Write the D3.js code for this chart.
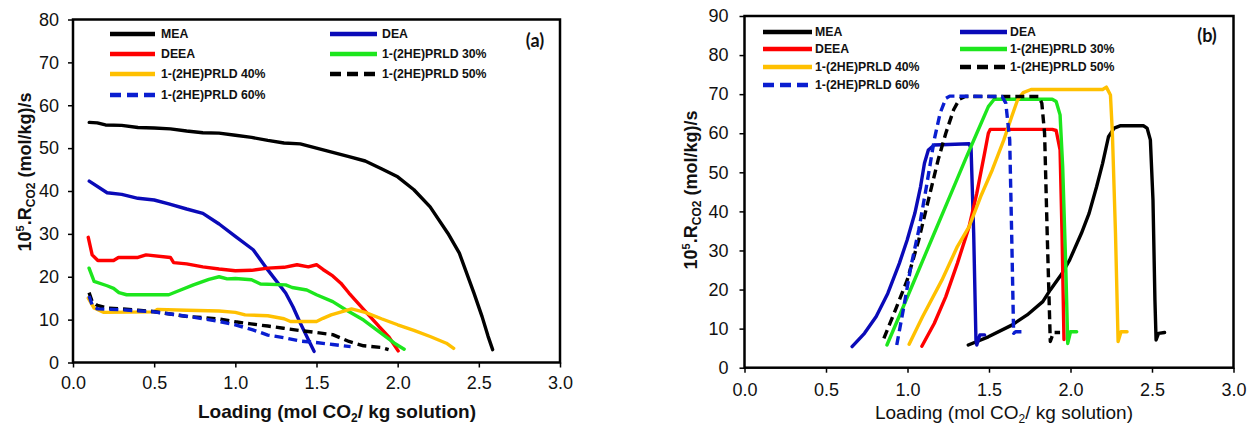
<!DOCTYPE html>
<html><head><meta charset="utf-8">
<script src="https://cdn.jsdelivr.net/npm/d3@7"></script>
<style>
html,body{margin:0;padding:0;background:#fff;}
svg{display:block;}
text{font-family:"Liberation Sans",Arial,sans-serif;}
</style></head>
<body>
<svg id="c" width="1247" height="425"></svg>
<script>
// ---------- DATA ----------
const seriesNames = ["MEA","DEA","DEEA","1-(2HE)PRLD 30%","1-(2HE)PRLD 40%","1-(2HE)PRLD 50%","1-(2HE)PRLD 60%"];
const xTicks = [0,0.5,1.0,1.5,2.0,2.5,3.0];
const yTicksA = [0,10,20,30,40,50,60,70,80];
const yTicksB = [0,10,20,30,40,50,60,70,80,90];

// Panel (a)
const meaA = [[0.1,56],[0.15,55.9],[0.2,55.4],[0.3,55.3],[0.4,54.8],[0.5,54.7],[0.6,54.5],[0.7,54],[0.8,53.6],[0.9,53.5],[1.0,53.0],[1.1,52.5],[1.2,51.8],[1.3,51.2],[1.4,51],[1.5,50],[1.6,49],[1.7,48],[1.8,47],[1.9,45.2],[2.0,43.3],[2.1,40.3],[2.2,36.3],[2.31,30.1],[2.38,25.5],[2.47,16.2],[2.52,10.7],[2.557,6.1],[2.585,3]];
const deaA = [[0.1,42.3],[0.21,39.6],[0.3,39.2],[0.4,38.3],[0.5,37.9],[0.59,37],[0.7,35.8],[0.8,34.8],[0.9,32.3],[1.0,29.4],[1.11,26.3],[1.2,21.6],[1.31,16.2],[1.355,13],[1.4,9.2],[1.45,5.3],[1.485,2.6]];
const deeaA = [[0.094,29.2],[0.118,25.1],[0.153,23.8],[0.25,23.8],[0.28,24.5],[0.4,24.5],[0.45,25.1],[0.6,24.5],[0.62,23.3],[0.7,23],[0.8,22.3],[0.9,21.8],[1.0,21.4],[1.1,21.5],[1.2,22],[1.3,22.2],[1.38,22.8],[1.45,22.3],[1.5,22.8],[1.54,21.7],[1.6,20.2],[1.65,18.5],[1.7,16.2],[1.79,12.4],[1.885,8.4],[1.944,6.05],[2.003,2.7]];
const p30A = [[0.099,22],[0.13,18.9],[0.21,17.9],[0.25,17.3],[0.283,16.3],[0.33,15.8],[0.59,15.8],[0.636,16.5],[0.742,18.1],[0.837,19.4],[0.9,20],[0.95,19.5],[1.0,19.6],[1.1,19.3],[1.155,18.3],[1.31,18.1],[1.35,17.5],[1.44,16.9],[1.5,15.8],[1.6,14.2],[1.68,12.3],[1.79,9.9],[1.885,7.2],[1.98,4.5],[2.04,3.1]];
const p40A = [[0.094,15],[0.13,12.7],[0.19,11.7],[0.5,11.8],[0.52,12.4],[0.7,12.2],[0.9,12],[1.0,11.7],[1.06,11.1],[1.2,10.9],[1.3,10.2],[1.34,9.55],[1.5,9.55],[1.54,10.3],[1.59,11.1],[1.716,12.5],[1.8,11.7],[1.9,10.2],[2.0,8.8],[2.1,7.5],[2.2,6.06],[2.3,4.5],[2.345,3.3]];
const p50A = [[0.099,16.3],[0.118,14.2],[0.15,13.3],[0.21,12.7],[0.3,12.5],[0.4,12.2],[0.495,11.9],[0.6,11.3],[0.707,10.7],[0.8,10.5],[0.907,10.1],[1.0,9.5],[1.096,9.0],[1.2,8.5],[1.296,8.0],[1.39,7.5],[1.497,7.0],[1.6,6.5],[1.7,4.9],[1.79,3.9],[1.9,3.5],[1.944,3]];
const p60A = [[0.099,15.5],[0.118,13.4],[0.15,12.5],[0.3,12.3],[0.5,11.8],[0.6,11.3],[0.7,10.8],[0.8,10.2],[0.896,9.6],[1.0,8.8],[1.108,7.6],[1.2,6.4],[1.31,5.7],[1.4,5.0],[1.497,4.66],[1.6,4.2],[1.71,3.7]];

// Panel (b)
const meaB = [[1.373,5.8],[1.496,7.9],[1.64,10.9],[1.734,13.5],[1.83,16.9],[1.876,19.9],[1.948,24.1],[1.995,27.6],[2.067,34.4],[2.114,39.5],[2.16,46.3],[2.197,52.3],[2.233,59.1],[2.268,61.3],[2.304,61.9],[2.447,61.9],[2.47,61.3],[2.49,58.3],[2.506,42.9],[2.518,17.3],[2.525,7.1],[2.54,8.8],[2.577,9.0]];
const deaB = [[0.66,5.4],[0.736,8.8],[0.808,13.1],[0.879,19],[0.95,26.7],[0.998,32.7],[1.045,39.5],[1.08,46.3],[1.104,52.3],[1.128,55.7],[1.164,57.0],[1.378,57.3],[1.39,56.1],[1.406,34.4],[1.42,7.1],[1.425,5.8],[1.444,8.4],[1.473,8.4]];
const deeaB = [[1.088,5.5],[1.164,11.3],[1.235,18.2],[1.306,26.7],[1.378,36.1],[1.425,44.6],[1.473,54.9],[1.496,60],[1.508,61],[1.888,61],[1.912,60.7],[1.936,55.7],[1.948,34.4],[1.96,7.2]];
const p30B = [[0.874,5.8],[0.974,15.6],[1.069,25],[1.164,34.4],[1.259,43.8],[1.354,53.2],[1.425,60],[1.496,66.8],[1.532,68.7],[1.888,68.7],[1.912,68.1],[1.936,64.7],[1.952,51.5],[1.971,25.9],[1.983,6.2],[2.0,9.2],[2.038,9.2]];
const p40B = [[1.01,6.0],[1.093,13.1],[1.211,22.4],[1.306,31],[1.378,36.1],[1.449,43.8],[1.52,50.6],[1.591,58.3],[1.639,64.2],[1.675,68.5],[1.71,70.4],[1.758,71.2],[2.197,71.2],[2.22,71.8],[2.245,69.8],[2.257,60],[2.276,34.4],[2.292,6.7],[2.31,9.2],[2.347,9.2]];
const p50B = [[0.855,7.5],[0.926,14.8],[0.998,22.4],[1.069,32.7],[1.128,42.9],[1.188,53.2],[1.235,60],[1.283,66],[1.318,68.7],[1.354,69.4],[1.805,69.4],[1.824,67.7],[1.841,60],[1.857,34.4],[1.876,6.7],[1.895,9.0],[1.936,9.0]];
const p60B = [[0.934,5.8],[0.974,14.8],[1.021,25.9],[1.069,35.2],[1.116,46.3],[1.164,58.3],[1.2,65.1],[1.235,68.9],[1.259,69.5],[1.58,69.4],[1.603,67.7],[1.627,58.3],[1.639,34.4],[1.651,8.8],[1.663,9.2],[1.71,9.2]];

const colors = ["#000000","#0a0ab8","#ff0000","#1de61d","#ffc000","#000000","#0a1ed0"];
const dashed = [false,false,false,false,false,true,true];

// ---------- DRAW ----------
const svg = d3.select("#c");

function panel(cfg){
  const x = d3.scaleLinear().domain([0,3]).range([cfg.x0,cfg.x1]);
  const y = d3.scaleLinear().domain([0,cfg.ymax]).range([cfg.y0,cfg.y1]);
  const g = svg.append("g");
  const ax = g.append("g").attr("transform",`translate(0,${cfg.y0})`)
    .call(d3.axisBottom(x).tickValues(xTicks).tickFormat(d3.format(".1f")).tickSize(5).tickPadding(cfg.xpad));
  const ay = g.append("g").attr("transform",`translate(${cfg.x0},0)`)
    .call(d3.axisLeft(y).tickValues(cfg.yTicks).tickFormat(d3.format("d")).tickSize(5).tickPadding(cfg.ypad));
  [ax,ay].forEach(a=>{
    a.select(".domain").remove();
    a.selectAll(".tick line").attr("stroke","#000").attr("stroke-width",1.5);
    a.selectAll(".tick text").attr("font-size",18).attr("fill","#111").style("font-family","Liberation Sans, Arial, sans-serif");
  });
  const line = d3.line().x(d=>x(d[0])).y(d=>y(d[1]));
  cfg.data.forEach((ds,i)=>{
    g.append("path").datum(ds).attr("d",line).attr("fill","none")
      .attr("stroke",colors[i]).attr("stroke-width",3.4)
      .attr("stroke-linejoin","round").attr("stroke-linecap", dashed[i]?"butt":"round")
      .attr("stroke-dasharray", dashed[i]?"9,5":null);
  });
  g.append("rect").attr("x",cfg.x0).attr("y",cfg.y1).attr("width",cfg.x1-cfg.x0).attr("height",cfg.y0-cfg.y1)
    .attr("fill","none").attr("stroke","#000").attr("stroke-width",2.5);
  const L = cfg.leg;
  seriesNames.forEach((n,i)=>{
    const col = i%2, row = Math.floor(i/2);
    const lx0 = col===0?L.c1[0]:L.c2[0], lx1 = col===0?L.c1[1]:L.c2[1], tx = col===0?L.c1[2]:L.c2[2];
    const ly = L.rows[row];
    g.append("line").attr("x1",lx0).attr("x2",lx1).attr("y1",ly).attr("y2",ly)
      .attr("stroke",colors[i]).attr("stroke-width",4.5)
      .attr("stroke-dasharray",dashed[i]?"11,6":null);
    g.append("text").attr("x",tx).attr("y",ly).attr("dy","0.36em").attr("font-size",12.3).attr("font-weight","bold")
      .attr("fill","#111").text(n);
  });
  g.append("text").attr("x",cfg.tag[0]).attr("y",cfg.tag[1]).attr("dy","0.35em").attr("text-anchor","middle")
    .style("font-family","Lato, 'Open Sans', sans-serif").attr("font-weight","bold").attr("font-size",18).attr("fill","#111").text(cfg.tagText);
  const xl = g.append("text").attr("x",cfg.xlab[0]).attr("y",cfg.xlab[1]).attr("text-anchor","middle")
    .attr("font-size",19).attr("font-weight",cfg.xbold?"bold":"normal").attr("fill","#111");
  xl.append("tspan").text("Loading (mol CO");
  xl.append("tspan").attr("font-size",12).attr("dy",4).text("2");
  xl.append("tspan").attr("dy",-4).text("/ kg solution)");
  const yl = g.append("text").attr("transform",`translate(${cfg.ylab[0]},${cfg.ylab[1]}) rotate(-90)`)
    .attr("text-anchor","middle").attr("font-size",18).attr("font-weight","bold").attr("fill","#111");
  yl.append("tspan").text("10");
  yl.append("tspan").attr("font-size",11).attr("dy",-7).text("5");
  yl.append("tspan").attr("dy",7).text(".R");
  yl.append("tspan").attr("font-size",12).attr("dy",4).text("CO2");
  yl.append("tspan").attr("dy",-4).text(" (mol/kg)/s");
}

panel({x0:73,x1:560,y0:362.5,y1:19.5,ymax:80,yTicks:yTicksA,xpad:9,ypad:9,
  data:[meaA,deaA,deeaA,p30A,p40A,p50A,p60A],
  leg:{c1:[110,155,161],c2:[330,377,382],rows:[34,54,74,95]},
  tag:[535,41],tagText:"(a)",xlab:[337,418],xbold:true,ylab:[31,172]});

panel({x0:744.5,x1:1233.5,y0:367.7,y1:16,ymax:90,yTicks:yTicksB,xpad:11,ypad:11,
  data:[meaB,deaB,deeaB,p30B,p40B,p50B,p60B],
  leg:{c1:[763,812,815],c2:[960,1007,1010],rows:[32,49,67,85]},
  tag:[1207,36],tagText:"(b)",xlab:[1004,419],xbold:false,ylab:[697,190]});
</script>
</body></html>
